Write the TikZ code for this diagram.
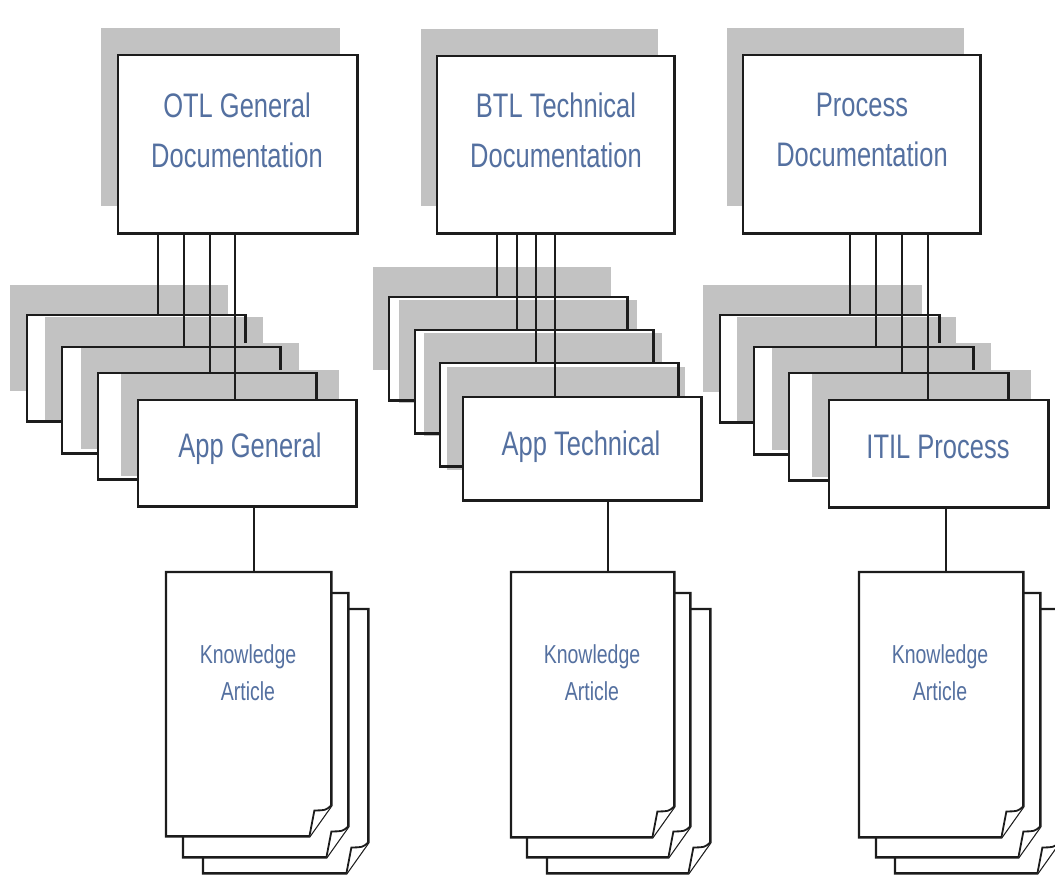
\documentclass[tikz,border=0pt]{standalone}
\usepackage{fontspec}
\usetikzlibrary{calc}
\newfontfamily\labelfont[FakeStretch=0.75]{Liberation Sans}
\definecolor{labelblue}{RGB}{84,112,160}
\definecolor{shadowgray}{RGB}{194,194,194}
\definecolor{inkline}{RGB}{28,28,28}

\tikzset{
  shade box/.style={fill=shadowgray, draw=none, inner sep=0pt, anchor=north west},
  body box/.style={fill=white, draw=none, inner sep=0pt, anchor=north west},
  box edge/.style={draw=inkline, line width=2.8pt, line join=miter},
  link/.style={draw=inkline, line width=2.2pt},
  big label/.style={font=\labelfont\fontsize{34}{50}\selectfont, text=labelblue, align=center, inner sep=0pt},
  small label/.style={font=\labelfont\fontsize{26}{37}\selectfont, text=labelblue, align=center, inner sep=0pt},
  sheet/.style={fill=white, draw=inkline, line width=2.4pt, line join=miter},
}

% grey drop shadow, offset up and to the left of a box
% #1 box name, #2 x, #3 y, #4 width, #5 height, #6 dx, #7 dy
\newcommand\boxshade[7]{%
  \node[shade box, minimum width=#4pt, minimum height=#5pt] (#1s) at (#2-#6,#3-#7) {};
}
% white body of a box: #1 name, #2 x, #3 y, #4 width, #5 height
\newcommand\boxbody[5]{%
  \node[body box, minimum width=#4pt, minimum height=#5pt] (#1) at (#2,#3) {};
}
% outline of a box, drawn after the next shadow in a stack
\newcommand\boxedge[1]{%
  \draw[box edge] (#1.north west) rectangle (#1.south east);
}

% page with a curled bottom-right corner
% #1 name, #2 x, #3 y, #4 width, #5 height
\newcommand\kpage[5]{%
  \node[inner sep=0pt, minimum width=#4pt, minimum height=#5pt, anchor=north west] (#1) at (#2,#3) {};
  \draw[sheet] (#1.north west) -- (#1.north east) -- ($(#1.south east)+(0,-31)$)
    -- ($(#1.south east)+(-22,0)$) -- (#1.south west) -- cycle;
  \draw[sheet, line width=1.8pt] ($(#1.south east)+(0,-31)$)
    .. controls ($(#1.south east)+(-6,-26)$) .. ($(#1.south east)+(-17,-26)$)
    -- ($(#1.south east)+(-22,0)$);
}

\begin{document}
\begin{tikzpicture}[x=1pt, y=-1pt]
\useasboundingbox (0,0) rectangle (1055,878);
\clip (0,0) rectangle (1055,878);

% ---------- column 1: general documentation ----------
\boxshade{T1}{118}{55}{239}{178}{17}{27}
\boxbody{T1}{118}{55}{239}{178}
\boxedge{T1}
\node[big label] (T1t) at (237,130) {OTL General\\Documentation};

\boxshade{A1a}{27}{315}{218}{106}{17}{30}
\boxbody{A1a}{27}{315}{218}{106}
\boxshade{A1b}{62}{347}{218}{106}{17}{30}
\boxedge{A1a}
\boxbody{A1b}{62}{347}{218}{106}
\boxshade{A1c}{98}{373}{218}{106}{17}{30}
\boxedge{A1b}
\boxbody{A1c}{98}{373}{218}{106}
\boxshade{A1}{138}{400}{218}{106}{17}{30}
\boxedge{A1c}
\boxbody{A1}{138}{400}{218}{106}
\boxedge{A1}
\node[big label, anchor=base] (A1t) at (250,457) {App General};

\coordinate (c11) at (158,0);
\coordinate (c12) at (184,0);
\coordinate (c13) at (210,0);
\coordinate (c14) at (235,0);
\draw[link] (c11 |- T1.south) -- (c11 |- A1a.north);
\draw[link] (c12 |- T1.south) -- (c12 |- A1b.north);
\draw[link] (c13 |- T1.south) -- (c13 |- A1c.north);
\draw[link] (c14 |- T1.south) -- (c14 |- A1.north);

\kpage{K1c}{203}{609}{165}{264}
\kpage{K1b}{183}{593}{165}{264}
\kpage{K1a}{166}{572}{165}{264}
\node[small label] (K1t) at (248,673) {Knowledge\\Article};
\coordinate (d1) at (254,0);
\draw[link] (d1 |- A1.south) -- (d1 |- K1a.north);

% ---------- column 2: technical documentation ----------
\boxshade{T2}{437}{56}{237}{177}{16}{27}
\boxbody{T2}{437}{56}{237}{177}
\boxedge{T2}
\node[big label] (T2t) at (556,130) {BTL Technical\\Documentation};

\boxshade{A2a}{389}{297}{238}{103}{16}{30}
\boxbody{A2a}{389}{297}{238}{103}
\boxshade{A2b}{415}{330}{238}{103}{16}{30}
\boxedge{A2a}
\boxbody{A2b}{415}{330}{238}{103}
\boxshade{A2c}{440}{363}{238}{103}{16}{30}
\boxedge{A2b}
\boxbody{A2c}{440}{363}{238}{103}
\boxshade{A2}{463}{397}{238}{103}{16}{30}
\boxedge{A2c}
\boxbody{A2}{463}{397}{238}{103}
\boxedge{A2}
\node[big label, anchor=base] (A2t) at (581,455) {App Technical};

\coordinate (c21) at (497,0);
\coordinate (c22) at (517,0);
\coordinate (c23) at (536,0);
\coordinate (c24) at (555,0);
\draw[link] (c21 |- T2.south) -- (c21 |- A2a.north);
\draw[link] (c22 |- T2.south) -- (c22 |- A2b.north);
\draw[link] (c23 |- T2.south) -- (c23 |- A2c.north);
\draw[link] (c24 |- T2.south) -- (c24 |- A2.north);

\kpage{K2c}{547}{609}{163}{264}
\kpage{K2b}{527}{593}{163}{264}
\kpage{K2a}{511}{572}{163}{265}
\node[small label] (K2t) at (592,673) {Knowledge\\Article};
\coordinate (d2) at (608,0);
\draw[link] (d2 |- A2.south) -- (d2 |- K2a.north);

% ---------- column 3: process documentation ----------
\boxshade{T3}{743}{55}{237}{178}{16}{27}
\boxbody{T3}{743}{55}{237}{178}
\boxedge{T3}
\node[big label] (T3t) at (862,130) {Process\\Documentation};

\boxshade{A3a}{720}{315}{219}{107}{17}{30}
\boxbody{A3a}{720}{315}{219}{107}
\boxshade{A3b}{754}{347}{219}{107}{17}{30}
\boxedge{A3a}
\boxbody{A3b}{754}{347}{219}{107}
\boxshade{A3c}{789}{373}{219}{107}{17}{30}
\boxedge{A3b}
\boxbody{A3c}{789}{373}{219}{107}
\boxshade{A3}{829}{400}{219}{107}{17}{30}
\boxedge{A3c}
\boxbody{A3}{829}{400}{219}{107}
\boxedge{A3}
\node[big label, anchor=base] (A3t) at (938,458) {ITIL Process};

\coordinate (c31) at (850,0);
\coordinate (c32) at (876,0);
\coordinate (c33) at (902,0);
\coordinate (c34) at (928,0);
\draw[link] (c31 |- T3.south) -- (c31 |- A3a.north);
\draw[link] (c32 |- T3.south) -- (c32 |- A3b.north);
\draw[link] (c33 |- T3.south) -- (c33 |- A3c.north);
\draw[link] (c34 |- T3.south) -- (c34 |- A3.north);

\kpage{K3c}{895}{609}{164}{264}
\kpage{K3b}{876}{593}{164}{264}
\kpage{K3a}{859}{572}{164}{265}
\node[small label] (K3t) at (940,673) {Knowledge\\Article};
\coordinate (d3) at (946,0);
\draw[link] (d3 |- A3.south) -- (d3 |- K3a.north);
\end{tikzpicture}
\end{document}
